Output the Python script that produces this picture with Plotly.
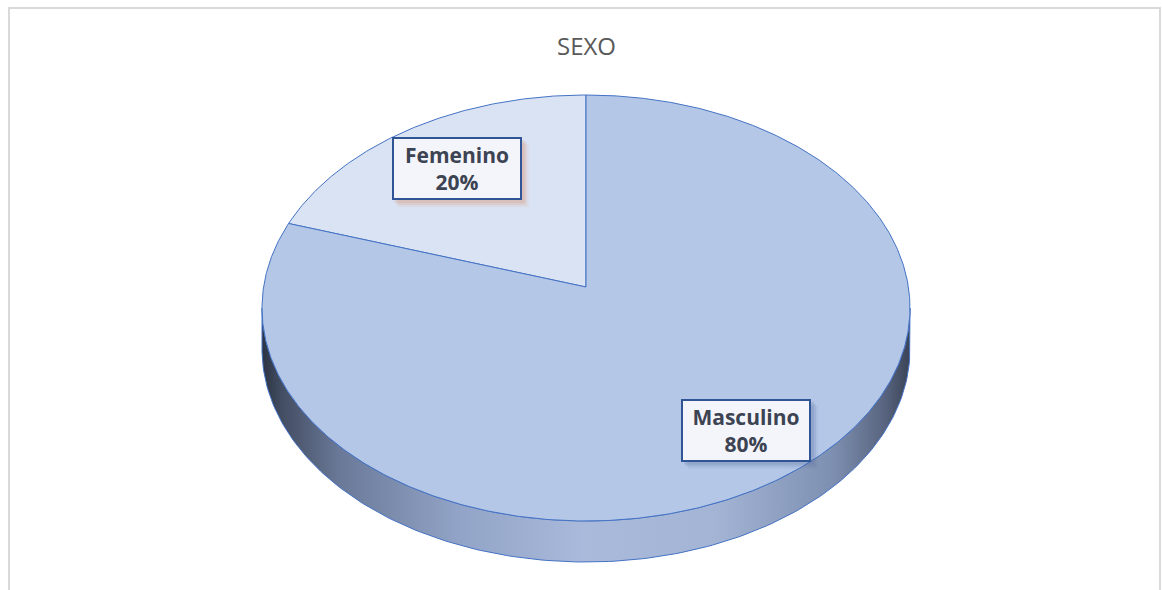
import numpy as np
import plotly.graph_objects as go

# ---- data ----
categories = ["Femenino", "Masculino"]
values = [20, 80]
title_text = "SEXO"

# ---- geometry / style (pixel space) ----
W, H = 1162, 590
cx, cy = 586, 308          # ellipse centre of top face
rx, ry = 324, 213          # ellipse radii
apex_dy = -21              # perspective offset of the pie apex
depth = 41                 # thickness of the pie side
slice_colors = ["#DAE3F3", "#B4C7E7"]
edge_color = "#4472C4"
shadow_colors = ["rgba(215,150,120,0.22)", "rgba(90,110,160,0.18)"]

def ell(theta_deg, dy=0.0):
    t = np.radians(theta_deg)
    return cx + rx * np.cos(t), cy - ry * np.sin(t) + dy

def rim(phi_deg):
    """Point on the rim seen from the (perspective-shifted) apex at true angle phi."""
    p = np.radians(np.asarray(phi_deg, dtype=float))
    c, s = np.cos(p), np.sin(p)
    k = apex_dy / ry
    t = k * s + np.sqrt(k * k * s * s - k * k + 1)
    return cx + rx * c * t, cy + apex_dy - ry * s * t

fig = go.Figure()

# side face (front half of the ellipse)
th = np.linspace(180, 360, 181)
xt, yt = ell(th)
xb, yb = ell(th[::-1], depth)
fig.add_trace(go.Scatter(
    x=np.concatenate([xt, xb, xt[:1]]), y=np.concatenate([yt, yb, yt[:1]]),
    mode="lines", line=dict(color=edge_color, width=1), fill="toself",
    fillgradient=dict(type="horizontal", colorscale=[
        [0.0, "#2b3343"], [0.03, "#434d62"], [0.12, "#6a7998"], [0.3, "#91a3c6"],
        [0.5, "#a9badb"], [0.7, "#a3b4d5"], [0.88, "#7e90b1"], [0.96, "#596580"],
        [1.0, "#3a4356"]]),
    hoverinfo="skip", showlegend=False))

# top-face slices, starting at 12 o'clock going counter-clockwise
total = float(sum(values))
start = 90.0
mids = []
for cat, val, col in zip(categories, values, slice_colors):
    span = 360.0 * val / total
    th = np.linspace(start, start + span, max(int(span * 2), 2))
    xs, ys = rim(th)
    ax, ay = cx, cy + apex_dy
    fig.add_trace(go.Scatter(
        x=np.concatenate([[ax], xs, [ax]]), y=np.concatenate([[ay], ys, [ay]]),
        mode="lines", line=dict(color=edge_color, width=1), fill="toself",
        fillcolor=col, name=cat, hoverinfo="skip", showlegend=False))
    mids.append(start + span / 2)
    start += span

# data labels
label_f = [(0.68, 0.81), (0.84, 0.71)]
bw, bh = 130, 63
for cat, val, mid, (fx, fy), sc in zip(categories, values, mids, label_f, shadow_colors):
    t = np.radians(mid)
    lx = cx + rx * np.cos(t) * fx
    ly = cy - ry * np.sin(t) * fy
    for o, a in ((7, 0.5), (5, 0.8), (3, 1.0)):
        fig.add_shape(type="rect", xref="x", yref="y",
                      x0=lx - bw / 2 + o, x1=lx + bw / 2 + o,
                      y0=ly - bh / 2 + o, y1=ly + bh / 2 + o,
                      line=dict(width=0), fillcolor=sc, opacity=a, layer="above")
    fig.add_annotation(
        x=lx, y=ly, xref="x", yref="y", showarrow=False,
        text=f"<b>{cat}</b><br><b>{val / total * 100:.0f}%</b>",
        font=dict(family="Open Sans, sans-serif", size=21, color="#3C4352"),
        align="center", bgcolor="#F4F5FA", bordercolor="#2F5597",
        borderwidth=2, borderpad=2, width=122, height=55)

# title
fig.add_annotation(x=cx, y=45, xref="x", yref="y", showarrow=False,
                   text=title_text,
                   font=dict(family="Open Sans, sans-serif", size=24, color="#595959"))

# chart frame
fig.add_shape(type="rect", x0=9, y0=8, x1=1160, y1=600, xref="x", yref="y",
              line=dict(color="#D9D9D9", width=2), fillcolor="rgba(0,0,0,0)", layer="below")

fig.update_layout(
    width=W, height=H, margin=dict(l=0, r=0, t=0, b=0),
    paper_bgcolor="white", plot_bgcolor="white",
    xaxis=dict(range=[0, W], visible=False, fixedrange=True),
    yaxis=dict(range=[H, 0], visible=False, fixedrange=True),
)

fig.write_html("out.html", config={"displayModeBar": False},
               post_script="document.body.style.margin='0';document.body.style.overflow='hidden';")
